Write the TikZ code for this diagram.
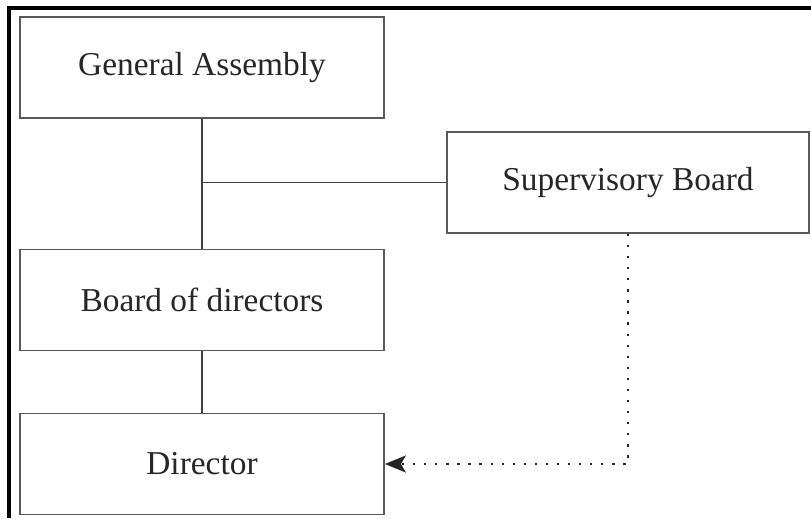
\documentclass[tikz,border=0pt]{standalone}
\usepackage{fontspec}
\setmainfont{Liberation Serif}
\usetikzlibrary{arrows.meta}

\begin{document}
\begin{tikzpicture}[
    unit/.style={
        draw=black!65,
        line width=1pt,
        text=black!85,
        align=center,
        minimum width=7.28cm,
        minimum height=2.02cm,
        font=\fontsize{19}{23}\selectfont
    },
    >={Stealth[length=0.42cm,width=0.34cm,inset=0.1cm]}
]
\useasboundingbox (0,0) rectangle (16.22,10.36);

% Frame
\draw[line width=2.3pt] (0.18,0) -- (0.18,10.2) -- (16.22,10.2);

% Boxes
\node[unit] (assembly) at (4.04,9.01)
{General Assembly};

\node[unit] (board) at (4.04,4.36)
{Board of directors};

\node[unit] (director) at (4.04,1.08)
{Director};

\node[unit, minimum width=7.24cm] (supervisory) at (12.56,6.71)
{Supervisory Board};

% Connections
\draw[black!75,line width=1.1pt] (assembly.south) -- (board.north);
\draw[black!75,line width=1.1pt] (board.south) -- (director.north);
\draw[black!75,line width=1.1pt] (supervisory.west) -- (assembly.south |- supervisory.west);

\draw[->,black!85,line width=1.2pt,dash pattern=on 1.3pt off 5pt] (supervisory.south) |- (director.east);

\end{tikzpicture}
\end{document}
